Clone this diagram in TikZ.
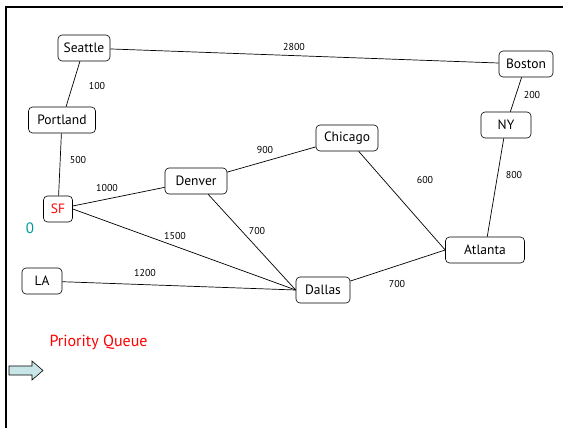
\documentclass[tikz,border=0pt]{standalone}
\usepackage{fontspec}
\setmainfont{PT Sans}
\definecolor{teal0}{RGB}{0,153,153}
\definecolor{arrowfill}{RGB}{200,230,232}
\begin{document}
\begin{tikzpicture}[x=1pt,y=-1pt,
  city/.style={draw,rounded corners=4pt,line width=0.6pt,minimum height=26pt,inner xsep=4pt,font=\fontsize{13.5}{15}\selectfont},
  wlabel/.style={font=\fontsize{10}{12}\selectfont},
  edge/.style={line width=0.7pt}]
\useasboundingbox (0,0) rectangle (563,428);
\draw[line width=2pt] (5,7) -- (563,7);
\draw[line width=2pt] (6,7) -- (6,428);
\node[city,minimum width=52pt] (seattle) at (84,48) {Seattle};
\node[city,minimum width=54pt] (boston) at (526,64) {Boston};
\node[city,minimum width=67pt] (portland) at (62,120) {Portland};
\node[city,minimum width=50pt] (ny) at (506,125) {NY};
\node[city,minimum width=62pt] (chicago) at (347,138) {Chicago};
\node[city,minimum width=62pt] (denver) at (196,181) {Denver};
\node[city,text=red,minimum width=29pt,inner xsep=3pt] (sf) at (58,209) {SF};
\node[city,minimum width=40pt] (la) at (42,281) {LA};
\node[city,minimum width=54pt] (dallas) at (323,290) {Dallas};
\node[city,minimum width=79pt] (atlanta) at (485,250) {Atlanta};
\draw[edge] (seattle) -- (boston);
\draw[edge] (seattle) -- (portland);
\draw[edge] (boston) -- (ny);
\draw[edge] (portland) -- (sf);
\draw[edge] (sf) -- (denver);
\draw[edge] (denver) -- (chicago);
\draw[edge] (sf.east) -- (dallas.west);
\draw[edge] (denver) -- (dallas.west);
\draw[edge] (la) -- (dallas.west);
\draw[edge] (chicago) -- (atlanta.west);
\draw[edge] (ny) -- (atlanta);
\draw[edge] (dallas) -- (atlanta.west);
\node[wlabel] (l2800) at (294,47) {2800};
\node[wlabel] (l100) at (97,86) {100};
\node[wlabel] (l200) at (532,95) {200};
\node[wlabel] (l500) at (78,160) {500};
\node[wlabel] (l900) at (265,150) {900};
\node[wlabel] (l1000) at (107,188) {1000};
\node[wlabel] (l1500) at (175,236) {1500};
\node[wlabel] (l700a) at (257,231) {700};
\node[wlabel] (l600) at (425,180) {600};
\node[wlabel] (l800) at (514,175) {800};
\node[wlabel] (l1200) at (145,273) {1200};
\node[wlabel] (l700b) at (397,284) {700};
\node[text=teal0,font=\fontsize{15}{17}\selectfont] (zero) at (30,228) {0};
\node[text=red,font=\fontsize{16}{18}\selectfont,anchor=west] (pq) at (46,342) {Priority Queue};
\draw[fill=arrowfill,line width=0.6pt] (9,366) -- (32,366) -- (32,361) -- (43,370.5) -- (32,380) -- (32,375) -- (9,375) -- cycle;
\end{tikzpicture}
\end{document}
